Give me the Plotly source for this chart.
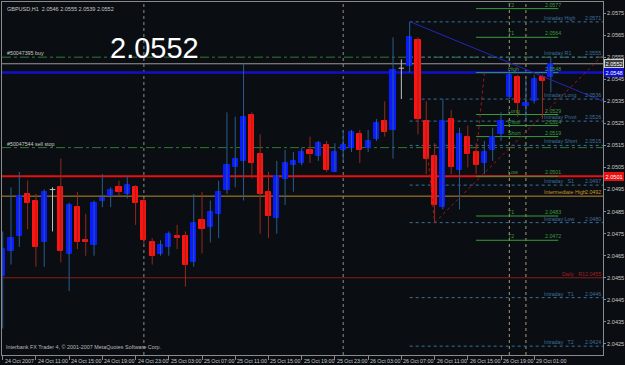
import plotly.graph_objects as go

# ---------------- data ----------------
bar_index = list(range(67))
opens = [2.0456, 2.0467, 2.0474, 2.0493, 2.0490, 2.0471, 2.0495, 2.0496, 2.0466, 2.0487,
         2.0472, 2.0470, 2.0490, 2.0492, 2.0496, 2.0493, 2.0496, 2.0490, 2.0471, 2.0466,
         2.0469, 2.0474, 2.0474, 2.0462, 2.0481, 2.0478, 2.0484, 2.0495, 2.0505, 2.0508,
         2.0529, 2.0511, 2.0494, 2.0482, 2.0500, 2.0506, 2.0507, 2.0513, 2.0510, 2.0515,
         2.0503, 2.0513, 2.0514, 2.0520, 2.0514, 2.0518, 2.0526, 2.0522, 2.0550, 2.0551,
         2.0563, 2.0526, 2.0510, 2.0487, 2.0527, 2.0504, 2.0519, 2.0512, 2.0507, 2.0513,
         2.0520, 2.0537, 2.0546, 2.0533, 2.0535, 2.0546, 2.0546]
highs = [2.0476, 2.0496, 2.0503, 2.0499, 2.0493, 2.0495, 2.0496, 2.0509, 2.0489, 2.0494,
         2.0484, 2.0490, 2.0502, 2.0496, 2.0499, 2.0501, 2.0497, 2.0491, 2.0473, 2.0472,
         2.0476, 2.0479, 2.0476, 2.0493, 2.0494, 2.0490, 2.0499, 2.0530, 2.0528, 2.0552,
         2.0530, 2.0520, 2.0503, 2.0508, 2.0513, 2.0512, 2.0514, 2.0519, 2.0517, 2.0517,
         2.0516, 2.0522, 2.0522, 2.0522, 2.0522, 2.0527, 2.0535, 2.0564, 2.0554, 2.0571,
         2.0564, 2.0535, 2.0516, 2.0536, 2.0531, 2.0523, 2.0524, 2.0516, 2.0517, 2.0523,
         2.0530, 2.0548, 2.0547, 2.0545, 2.0547, 2.0547, 2.0555]
lows = [2.0432, 2.0461, 2.0469, 2.0477, 2.0460, 2.0460, 2.0476, 2.0462, 2.0449, 2.0468,
        2.0465, 2.0465, 2.0487, 2.0487, 2.0492, 2.0491, 2.0479, 2.0470, 2.0461, 2.0465,
        2.0465, 2.0468, 2.0451, 2.0460, 2.0466, 2.0471, 2.0473, 2.0493, 2.0496, 2.0490,
        2.0500, 2.0475, 2.0473, 2.0475, 2.0488, 2.0494, 2.0506, 2.0507, 2.0508, 2.0503,
        2.0503, 2.0508, 2.0512, 2.0507, 2.0512, 2.0517, 2.0519, 2.0509, 2.0536, 2.0548,
        2.0520, 2.0502, 2.0480, 2.0486, 2.0502, 2.0486, 2.0505, 2.0502, 2.0502, 2.0508,
        2.0517, 2.0536, 2.0528, 2.0527, 2.0534, 2.0527, 2.0539]
closes = [2.0468, 2.0473, 2.0492, 2.0489, 2.0469, 2.0494, 2.0495, 2.0467, 2.0488, 2.0471,
          2.0471, 2.0489, 2.0491, 2.0495, 2.0494, 2.0497, 2.0489, 2.0472, 2.0465, 2.0470,
          2.0475, 2.0473, 2.0461, 2.0480, 2.0477, 2.0485, 2.0494, 2.0506, 2.0509, 2.0528,
          2.0507, 2.0493, 2.0483, 2.0501, 2.0507, 2.0508, 2.0512, 2.0511, 2.0516, 2.0504,
          2.0512, 2.0515, 2.0521, 2.0513, 2.0517, 2.0525, 2.0521, 2.0549, 2.0550, 2.0564,
          2.0527, 2.0509, 2.0488, 2.0526, 2.0505, 2.0520, 2.0511, 2.0506, 2.0512, 2.0519,
          2.0526, 2.0547, 2.0534, 2.0534, 2.0545, 2.0544, 2.0552]

time_tick_bars = [0, 4, 8, 12, 16, 20, 24, 28, 32, 36, 40, 44, 48, 52, 56, 60, 64]
time_tick_labels = ["24 Oct 2007", "24 Oct 11:00", "24 Oct 15:00", "24 Oct 19:00",
                    "24 Oct 23:00", "25 Oct 03:00", "25 Oct 07:00", "25 Oct 11:00",
                    "25 Oct 15:00", "25 Oct 19:00", "25 Oct 23:00", "26 Oct 03:00",
                    "26 Oct 07:00", "26 Oct 11:00", "26 Oct 15:00", "26 Oct 19:00",
                    "29 Oct 01:00"]
price_ticks = [2.0425, 2.0435, 2.0445, 2.0455, 2.0465, 2.0475, 2.0485, 2.0495,
               2.0505, 2.0515, 2.0525, 2.0535, 2.0545, 2.0555, 2.0565, 2.0575]

fib_names = ["T2", "T1", "High", "Long", "Pivot", "Short", "Low", "T1", "T2"]
fib_values = [2.0577, 2.0564, 2.0548, 2.0529, 2.0524, 2.0519, 2.0501, 2.0483, 2.0472]

intraday_names = ["Intraday High", "Intraday R1", "Intraday Long", "Intraday Pivot",
                  "Intraday Short", "Intraday   S1", "Intraday Low",
                  "Intraday   T1", "Intraday   T2"]
intraday_values = [2.0571, 2.0555, 2.0536, 2.0526, 2.0515, 2.0497, 2.0480, 2.0446, 2.0424]

intermediate_high = 2.0492
daily_level = 2.0455
buy_order = 2.0555
sell_stop_order = 2.0514
bid_price = 2.0552
blue_hline = 2.0548
red_hline = 2.0501
separator_bars = [17, 41]
marker_bars = [61, 63]

trend_blue_x = [49.1, 72.28]
trend_blue_y = [2.0571, 2.0535]
trend_red_x = [52.0, 72.28]
trend_red_y = [2.0480, 2.0556]
red_dot1_x = [51.2, 52.0]
red_dot1_y = [2.0510, 2.0480]
red_dot2_x = [58.0, 57.1]
red_dot2_y = [2.0548, 2.0514]

# ---------------- styling ----------------
BG = "#0a0e12"
FRAME = "#8a8a8a"
TXT = "#c8c8c8"
BLUE_BODY = "#0a1cff"
BLUE_WICK = "#2a5c8e"
RED_BODY = "#ff1212"
RED_WICK = "#922a1c"
DOJI = "#c0c0c0"
GREEN = "#3c9a3c"
INTRA = "#3d6f9c"
XMIN, XMAX = -0.084, 72.28
YMIN, YMAX = 2.0420, 2.0580
FONT = "Liberation Sans"
FS = 5.3

inc = [k for k in bar_index if closes[k] > opens[k]]
dec = [k for k in bar_index if closes[k] < opens[k]]
doj = [k for k in bar_index if closes[k] == opens[k]]


def wick_xy(ks):
    xs, ys = [], []
    for k in ks:
        xs += [k, k, None]
        ys += [lows[k], highs[k], None]
    return xs, ys


fig = go.Figure()

for ks, col in ((inc, BLUE_WICK), (dec, RED_WICK), (doj, DOJI)):
    wx, wy = wick_xy(ks)
    fig.add_trace(go.Scatter(x=wx, y=wy, mode="lines", line=dict(color=col, width=1),
                             hoverinfo="skip"))

for ks, col in ((inc, BLUE_BODY), (dec, RED_BODY)):
    fig.add_trace(go.Bar(x=ks,
                         y=[abs(closes[k] - opens[k]) for k in ks],
                         base=[min(opens[k], closes[k]) for k in ks],
                         width=0.62,
                         marker=dict(color=col, line=dict(color=col, width=1)),
                         hoverinfo="skip"))

dx, dy = [], []
for k in doj:
    dx += [k - 0.33, k + 0.33, None]
    dy += [opens[k], opens[k], None]
fig.add_trace(go.Scatter(x=dx, y=dy, mode="lines", line=dict(color=DOJI, width=1),
                         hoverinfo="skip"))

# trend lines
fig.add_trace(go.Scatter(x=trend_blue_x, y=trend_blue_y, mode="lines",
                         line=dict(color="#2626b4", width=1), hoverinfo="skip"))
for tx, ty in ((trend_red_x, trend_red_y), (red_dot1_x, red_dot1_y), (red_dot2_x, red_dot2_y)):
    fig.add_trace(go.Scatter(x=tx, y=ty, mode="lines",
                             line=dict(color="#a01818", width=1, dash="dot"), hoverinfo="skip"))

shapes = []
annotations = []


def hline(price, color, width=1, dash="solid", x0=XMIN, x1=XMAX, layer="below"):
    shapes.append(dict(type="line", xref="x", yref="y", x0=x0, x1=x1, y0=price, y1=price,
                       line=dict(color=color, width=width, dash=dash), layer=layer))


def label(x, y, text, color, anchor="left", size=FS, xref="x", yanchor="bottom"):
    annotations.append(dict(x=x, y=y, xref=xref, yref="y", text=text, showarrow=False,
                            xanchor=anchor, yanchor=yanchor, borderpad=0,
                            font=dict(family=FONT, size=size, color=color)))


# vertical separators
for k in separator_bars:
    shapes.append(dict(type="line", xref="x", yref="paper", x0=k, x1=k, y0=0, y1=1,
                       line=dict(color="#8c8c8c", width=1, dash="dot"), layer="below"))
for k in marker_bars:
    shapes.append(dict(type="line", xref="x", yref="paper", x0=k, x1=k, y0=0, y1=1,
                       line=dict(color="#a89a70", width=1, dash="dot"), layer="below"))

# full-width lines
hline(buy_order, "#2f7a2f", 1, "dashdot")
label(0.4, buy_order, "#50047395 buy", TXT)
hline(sell_stop_order, "#2f7a2f", 1, "dashdot")
label(0.4, sell_stop_order, "#50047544 sell stop", TXT)
hline(bid_price, "#9a9a9a", 1)
hline(blue_hline, "#1010c8", 2.5)
hline(red_hline, "#e81010", 2)
hline(intermediate_high, "#b88a2a", 1)
hline(daily_level, "#8a1c1c", 1)

# intraday levels
for nm, v in zip(intraday_names, intraday_values):
    hline(v, INTRA, 1, "dot", x0=49.0)
    label(65.1, v, nm.replace(" ", "\u00a0"), INTRA)
    label(72.15, v, f"{v:.4f}", INTRA, anchor="right")

label(65.1, intermediate_high, "Intermediate\u00a0High", "#c8962a")
label(72.15, intermediate_high, f"{intermediate_high:.4f}", "#c8962a", anchor="right")
label(67.2, daily_level, "Daily\u00a0\u00a0\u00a0R1", "#a02020")
label(72.15, daily_level, f"{daily_level:.4f}", "#a02020", anchor="right")

# fib / pivot targets
for nm, v in zip(fib_names, fib_values):
    hline(v, GREEN, 1, "solid", x0=57.0, x1=66.9)
    label(60.7, v, nm, GREEN)
    label(65.2, v, f"{v:.4f}", GREEN)

# price boxes on axis
for v, bg, fg in ((bid_price, "#3c3c3c", "#ffffff"), (blue_hline, "#1010c8", "#ffffff"),
                  (red_hline, "#e81010", "#ffffff")):
    annotations.append(dict(x=1.0, y=v, xref="paper", yref="y", text=f"{v:.4f}",
                            showarrow=False, xanchor="left", yanchor="middle", xshift=1,
                            bgcolor=bg, bordercolor="#d0d0d0" if bg == "#3c3c3c" else bg,
                            borderwidth=1, borderpad=0.5,
                            font=dict(family=FONT, size=5.6, color=fg)))

# time labels
for k, t in zip(time_tick_bars, time_tick_labels):
    annotations.append(dict(x=k, y=0, xref="x", yref="paper", text=t, showarrow=False,
                            xanchor="left", yanchor="top", yshift=-1, xshift=0,
                            font=dict(family=FONT, size=FS, color=TXT)))

# header / big price / copyright
annotations.append(dict(x=0.005, y=0.993, xref="paper", yref="paper",
                        text="GBPUSD,H1\u00a0\u00a02.0546 2.0555 2.0539 2.0552",
                        showarrow=False, xanchor="left", yanchor="top",
                        font=dict(family=FONT, size=5.5, color=TXT)))
annotations.append(dict(x=0.176, y=0.87, xref="paper", yref="paper",
                        text=f"{closes[-1]:.4f}", showarrow=False, xanchor="left",
                        yanchor="middle",
                        font=dict(family=FONT, size=29, color="#ffffff")))
annotations.append(dict(x=0.004, y=0.008, xref="paper", yref="paper",
                        text="Interbank FX Trader 4, © 2001-2007 MetaQuotes Software Corp.",
                        showarrow=False, xanchor="left", yanchor="bottom",
                        font=dict(family=FONT, size=5.4, color="#b8b8b8")))

fig.update_layout(
    width=625, height=365,
    margin=dict(l=1, r=21, t=2, b=10),
    paper_bgcolor=BG, plot_bgcolor=BG,
    showlegend=False, barmode="overlay", bargap=0,
    shapes=shapes, annotations=annotations,
    xaxis=dict(range=[XMIN, XMAX], showgrid=False, zeroline=False, showline=True,
               linecolor=FRAME, linewidth=1, mirror=True, ticks="outside",
               tickvals=time_tick_bars, ticklen=4, tickcolor=FRAME,
               showticklabels=False, fixedrange=True),
    yaxis=dict(range=[YMIN, YMAX], side="right", showgrid=False, zeroline=False,
               showline=True, linecolor=FRAME, linewidth=1, mirror=True,
               ticks="outside", ticklen=2, tickcolor=FRAME,
               tickvals=price_ticks, ticktext=[f"{p:.4f}" for p in price_ticks],
               tickfont=dict(family=FONT, size=5.6, color=TXT), fixedrange=True),
)

fig.write_html("out.html")
